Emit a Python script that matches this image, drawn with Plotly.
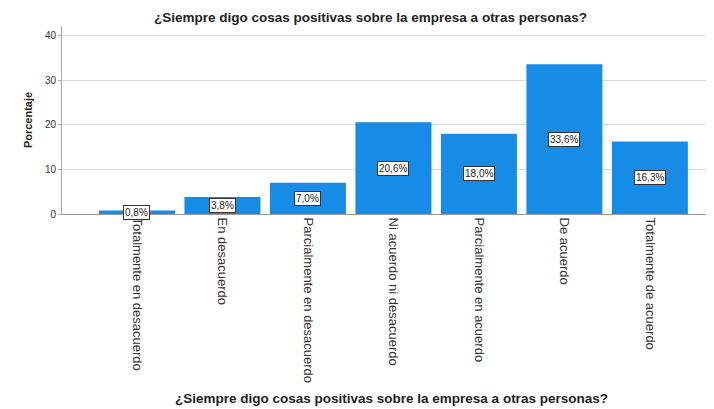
import plotly.graph_objects as go

categories = ["Totalmente en desacuerdo", "En desacuerdo", "Parcialmente en desacuerdo",
              "Ni acuerdo ni desacuerdo", "Parcialmente en acuerdo", "De acuerdo",
              "Totalmente de acuerdo"]
values = [0.8, 3.8, 7.0, 20.6, 18.0, 33.6, 16.3]
labels = ["0,8%", "3,8%", "7,0%", "20,6%", "18,0%", "33,6%", "16,3%"]
title = "¿Siempre digo cosas positivas sobre la empresa a otras personas?"

font = "Liberation Sans, Arial, sans-serif"
fig = go.Figure()
fig.add_trace(go.Bar(x=list(range(len(categories))), y=values,
                     marker=dict(color="#168ce6", line=dict(width=0)),
                     hoverinfo="skip"))

for i, (v, t) in enumerate(zip(values, labels)):
    fig.add_annotation(x=i, y=v / 2, xref="x", yref="y", text=t, showarrow=False,
                       xanchor="center", yanchor="middle",
                       font=dict(family=font, size=10, color="#222"),
                       bgcolor="white", bordercolor="#333", borderwidth=1, borderpad=1)

fig.add_annotation(x=0.4724, y=1.046, xref="paper", yref="paper", text="<b>" + title + "</b>",
                   xanchor="center", yanchor="middle",
                   showarrow=False, font=dict(family=font, size=13.5, color="#222"))
fig.add_annotation(x=0.506, y=-0.984, xref="paper", yref="paper", text="<b>" + title + "</b>",
                   xanchor="center", yanchor="middle",
                   showarrow=False, font=dict(family=font, size=13.5, color="#222"))
fig.add_annotation(x=-0.052, y=0.5, xref="paper", yref="paper", text="<b>Porcentaje</b>",
                   xanchor="center", yanchor="middle",
                   textangle=-90, showarrow=False, font=dict(family=font, size=11, color="#222"))

fig.update_layout(
    width=706, height=401,
    margin=dict(l=54, r=0, t=18, b=195),
    paper_bgcolor="white", plot_bgcolor="white",
    showlegend=False, bargap=0.111,
    font=dict(family=font),
    xaxis=dict(range=[-0.877, 6.75], tickmode="array", tickvals=list(range(len(categories))),
               ticktext=categories, tickangle=90, showgrid=False, showline=True,
               linecolor="#999", linewidth=1, ticks="", zeroline=False,
               tickfont=dict(family=font, size=13, color="#333")),
    yaxis=dict(range=[0, 42.2], tickvals=[0, 10, 20, 30, 40], showgrid=True,
               gridcolor="#d9d9d9", gridwidth=1, showline=True, linecolor="#aaa",
               linewidth=1, ticks="outside", ticklen=3, tickcolor="#aaa", zeroline=False,
               tickfont=dict(family=font, size=10, color="#333")),
)
fig.write_html("out.html")
